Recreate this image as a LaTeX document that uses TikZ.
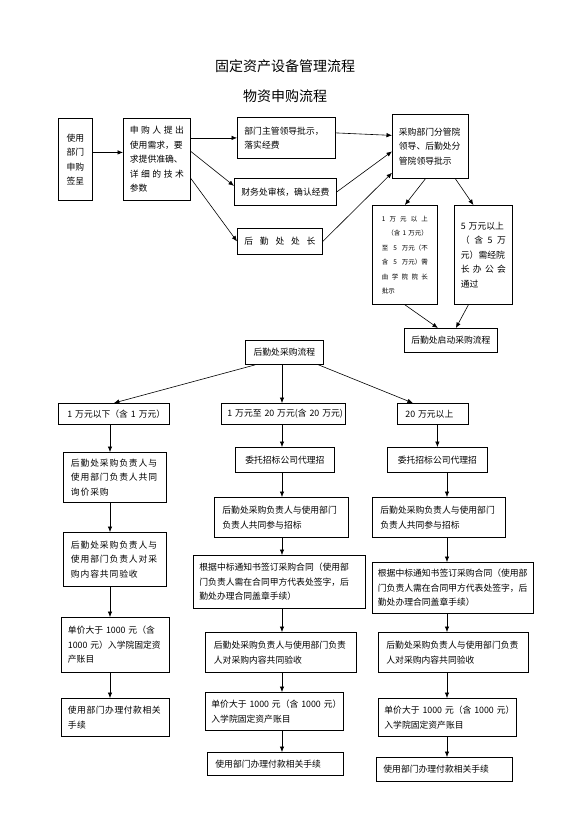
\documentclass[tikz,border=0pt]{standalone}
\usepackage{fontspec}
\setmainfont{Noto Sans CJK SC}
\usetikzlibrary{arrows.meta}

\begin{document}
\begin{tikzpicture}[
  x=1pt,
  y=-1pt,
  box/.style={draw=black, line width=0.8pt, anchor=north west, inner xsep=0pt, inner ysep=2pt, align=left, font=\fontsize{8.8}{14.5}\selectfont},
  wide/.style={font=\fontsize{8.8}{14.5}\selectfont\addfontfeature{LetterSpace=#1}},
  arr/.style={-{Latex[length=5.5pt,width=4.5pt]}, line width=0.6pt}
]
\useasboundingbox (0,0) rectangle (578,819);

% Titles
\node[font=\fontsize{14}{16}\selectfont] (title) at (285,66) {固定资产设备管理流程};
\node[font=\fontsize{14}{16}\selectfont] (subtitle) at (285,96) {物资申购流程};

% Application stage
\node[box, minimum width=34pt, minimum height=82pt, text width=20pt, align=center] (req) at (58,118) {使用\\部门\\申购\\签呈};
\node[box, minimum width=67pt, minimum height=82pt, text width=54pt] (need) at (123,118) {申\hfill 购\hfill 人\hfill 提\hfill 出\\使用需求，要\\求提供准确、\\详\hfill 细\hfill 的\hfill 技\hfill 术\\参数};
\node[box, minimum width=98pt, minimum height=41pt, text width=84pt] (lead) at (237,117) {部门主管领导批示，\\落实经费};
\node[box, minimum width=102pt, minimum height=27pt, text width=88pt] (fin) at (234,178) {财务处审核，确认经费};
\node[box, minimum width=85pt, minimum height=26pt, text width=71pt] (chief) at (237,228) {后\hfill 勤\hfill 处\hfill 处\hfill 长};
\node[box, minimum width=76pt, minimum height=64pt, text width=63pt] (vp) at (392,114) {采购部门分管院\\领导、后勤处分\\管院领导批示};
\node[box, minimum width=65pt, minimum height=99pt, text width=46pt, font=\fontsize{6.5}{14.5}\selectfont] (mid5) at (372,205) {1\hfill 万\hfill 元\hfill 以\hfill 上\\\hfill（含~1~万元）\hfill\\至\hfill 5\hfill 万元（不\\含\hfill 5\hfill 万元）需\\由\hfill 学\hfill 院\hfill 院\hfill 长\\批示};
\node[box, minimum width=58pt, minimum height=99pt, text width=45pt] (big5) at (454,205) {5~万元以上\\（\hfill 含\hfill 5\hfill 万\\元）需经院\\长\hfill 办\hfill 公\hfill 会\\通过};
\node[box, minimum width=93pt, minimum height=24pt, text width=82pt, align=center] (launch) at (404,328) {后勤处启动采购流程};

\draw[arr] ([yshift=7pt]req.east) -- ([yshift=7pt]need.west);
\draw[arr] (need.east |- lead.west) -- (lead.west);
\draw[arr] ([yshift=8pt]need.east) -- ([yshift=6pt]fin.west);
\draw[arr] ([yshift=-19pt]need.east) -- (chief.west);
\draw[arr] ([yshift=5pt]lead.east) -- ([yshift=11pt]vp.west);
\draw[arr] (fin.east) -- ([yshift=-5pt]vp.west);
\draw[arr] (chief.east) -- ([yshift=6pt]vp.south west);
\draw[arr] ([xshift=-5pt]vp.south) -- (mid5.north);
\draw[arr] ([xshift=25pt]vp.south) -- ([xshift=-10pt]big5.north);
\draw[arr] (mid5.south) -- ([xshift=-13pt]launch.north);
\draw[arr] ([xshift=-15pt]big5.south) -- ([xshift=5pt]launch.north);

% Procurement stage: three price ranges
\node[box, minimum width=78pt, minimum height=24pt, text width=66pt, align=center] (proc) at (245,340) {后勤处采购流程};
\node[box, minimum width=111pt, minimum height=21pt, text width=93pt] (lo) at (58,403) {1~万元以下（含~1~万元）};
\node[box, minimum width=124pt, minimum height=21pt, text width=112pt] (md) at (221,403) {1~万元至~20~万元(含~20~万元)};
\node[box, minimum width=71pt, minimum height=21pt, text width=55pt] (hi) at (397,403) {20~万元以上};

\coordinate (lcol) at (110,0);
\coordinate (mcol) at (282,0);
\coordinate (rcol) at (447,0);

\draw[arr] ([xshift=-29pt]proc.south) -- (lo.north);
\draw[arr] (mcol |- proc.south) -- (mcol |- md.north);
\draw[arr] ([xshift=34pt]proc.south) -- ([xshift=-20pt]hi.north);

% Below 10k
\node[box, wide=10, minimum width=103pt, minimum height=50pt, text width=88pt] (lo1) at (63,452) {后勤处采购负责人与\\使用部门负责人共同\\询价采购};
\node[box, wide=10, minimum width=103pt, minimum height=54pt, text width=88pt] (lo2) at (63,532) {后勤处采购负责人与\\使用部门负责人对采\\购内容共同验收};
\node[box, minimum width=108pt, minimum height=55pt, text width=95pt] (lo3) at (61,617) {单价大于~1000~元（含\\1000~元）入学院固定资\\产账目};
\node[box, wide=6, minimum width=108pt, minimum height=38pt, text width=95pt] (lo4) at (61,698) {使用部门办理付款相关\\手续};

\draw[arr] (lcol |- lo.south) -- (lcol |- lo1.north);
\draw[arr] (lcol |- lo1.south) -- (lcol |- lo2.north);
\draw[arr] (lcol |- lo2.south) -- (lcol |- lo3.north);
\draw[arr] (lcol |- lo3.south) -- (lcol |- lo4.north);

% 10k to 200k
\node[box, minimum width=99pt, minimum height=25pt, text width=86pt, align=center] (md1) at (235,447) {委托招标公司代理招};
\node[box, minimum width=134pt, minimum height=40pt, text width=118pt] (md2) at (214,497) {后勤处采购负责人与使用部门\\负责人共同参与招标};
\node[box, minimum width=172pt, minimum height=53pt, text width=160pt] (md3) at (193,555) {根据中标通知书签订采购合同（使用部\\门负责人需在合同甲方代表处签字，后\\勤处办理合同盖章手续）};
\node[box, minimum width=151pt, minimum height=40pt, text width=134pt] (md4) at (205,632) {后勤处采购负责人与使用部门负责\\人对采购内容共同验收};
\node[box, minimum width=138pt, minimum height=38pt, text width=126pt] (md5) at (205,692) {单价大于~1000~元（含~1000~元）\\入学院固定资产账目};
\node[box, minimum width=136pt, minimum height=23pt, text width=120pt] (md6) at (207,752) {使用部门办理付款相关手续};

\draw[arr] (mcol |- md.south) -- (mcol |- md1.north);
\draw[arr] (mcol |- md1.south) -- (mcol |- md2.north);
\draw[arr] (mcol |- md2.south) -- (mcol |- md3.north);
\draw[arr] (mcol |- md3.south) -- (mcol |- md4.north);
\draw[arr] (mcol |- md4.south) -- (mcol |- md5.north);
\draw[arr] (mcol |- md5.south) -- (mcol |- md6.north);

% Above 200k
\node[box, minimum width=100pt, minimum height=25pt, text width=86pt, align=center] (hi1) at (387,447) {委托招标公司代理招};
\node[box, minimum width=133pt, minimum height=40pt, text width=117pt] (hi2) at (372,497) {后勤处采购负责人与使用部门\\负责人共同参与招标};
\node[box, minimum width=161pt, minimum height=51pt, text width=150pt] (hi3) at (372,562) {根据中标通知书签订采购合同（使用部\\门负责人需在合同甲方代表处签字，后\\勤处办理合同盖章手续）};
\node[box, minimum width=150pt, minimum height=40pt, text width=134pt] (hi4) at (378,632) {后勤处采购负责人与使用部门负责\\人对采购内容共同验收};
\node[box, minimum width=138pt, minimum height=38pt, text width=126pt] (hi5) at (378,698) {单价大于~1000~元（含~1000~元）\\入学院固定资产账目};
\node[box, minimum width=136pt, minimum height=24pt, text width=122pt] (hi6) at (376,757) {使用部门办理付款相关手续};

\draw[arr] (hi.south -| hi1.north) -- (hi1.north);
\draw[arr] (rcol |- hi1.south) -- (rcol |- hi2.north);
\draw[arr] (rcol |- hi2.south) -- (rcol |- hi3.north);
\draw[arr] (rcol |- hi3.south) -- (rcol |- hi4.north);
\draw[arr] (rcol |- hi4.south) -- (rcol |- hi5.north);
\draw[arr] (rcol |- hi5.south) -- (rcol |- hi6.north);

\end{tikzpicture}
\end{document}
